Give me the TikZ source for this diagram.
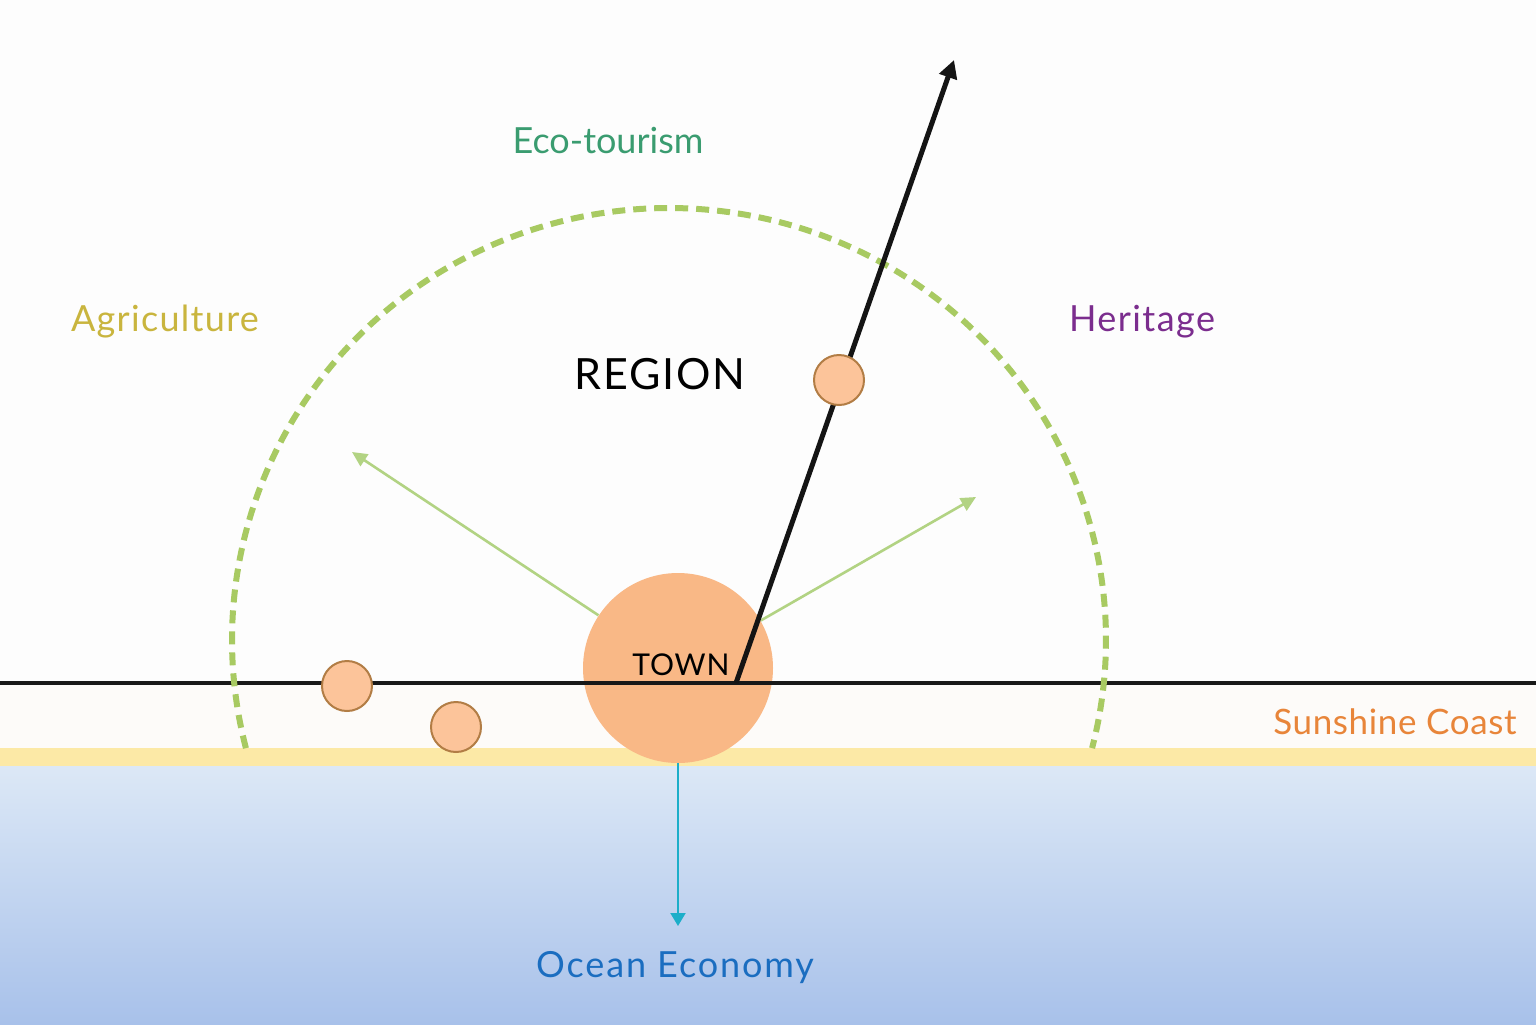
\documentclass[tikz,border=0pt]{standalone}
\usepackage{fontspec}
\setmainfont{Lato}
\usetikzlibrary{arrows.meta}
\definecolor{bg}{HTML}{FDFDFD}
\definecolor{band}{HTML}{FDFBF9}
\definecolor{sand}{HTML}{FCE9A6}
\definecolor{seatop}{HTML}{DCE8F6}
\definecolor{seabot}{HTML}{A8C1EA}
\definecolor{dashgreen}{HTML}{A8CA62}
\definecolor{arrowgreen}{HTML}{B2D383}
\definecolor{townfill}{HTML}{F9B886}
\definecolor{dotfill}{HTML}{FCC49A}
\definecolor{dotedge}{HTML}{B27D45}
\definecolor{cyanA}{HTML}{1CAEC9}
\definecolor{ecoC}{HTML}{3A9C70}
\definecolor{agriC}{HTML}{C9B53E}
\definecolor{heriC}{HTML}{7B2D8E}
\definecolor{sunC}{HTML}{E8853A}
\definecolor{oceanC}{HTML}{1A6DC0}
\tikzset{
  coastline/.style={line width=1.6pt, draw=black!90},
  reach/.style={draw=dashgreen, line width=3pt, dash pattern=on 6.5pt off 4pt},
  greenarrow/.style={draw=arrowgreen, line width=1.3pt, -{Triangle[length=7.5pt,width=7pt]}},
  blackarrow/.style={draw=black!92, line width=2.5pt, -{Triangle[length=9pt,width=9pt]}},
  cyanarrow/.style={draw=cyanA, line width=1pt, -{Triangle[length=6.5pt,width=7.5pt]}},
  townnode/.style={circle, fill=townfill, minimum size=95pt, inner sep=0pt},
  dotnode/.style={circle, fill=dotfill, draw=dotedge, line width=1pt, minimum size=25pt, inner sep=0pt},
  lbl/.style={anchor=base, inner sep=0pt},
}
\newcommand{\lblfont}[3]{\fontsize{#1}{#2}\selectfont\addfontfeatures{LetterSpace=#3}}
\begin{document}
\begin{tikzpicture}[x=0.5pt,y=-0.5pt]
\useasboundingbox (0,0) rectangle (1536,1024);
% background layers
\fill[bg] (0,0) rectangle (1536,683);
\fill[band] (0,683) rectangle (1536,748);
\fill[sand] (0,748) rectangle (1536,766);
\shade[top color=seatop,bottom color=seabot] (0,766) rectangle (1536,1024);
% coordinates
\coordinate (west) at (0,683);
\coordinate (east) at (1536,683);
\coordinate (agtip) at (352,452);
\coordinate (hetip) at (976,497);
\coordinate (pivot) at (736,683);
\coordinate (ptip) at (954,60);
\coordinate (oceantip) at (678,926);
% town
\node[townnode] (town) at (678,668) {};
% green arrows
\draw[greenarrow] (town) -- (agtip);
\draw[greenarrow] (town) -- (hetip);
% coast line
\draw[coastline] (west) -- (east);
% dashed reach arc
\draw[reach] plot[domain=165.5:374.5, samples=240, smooth] ({669+437*cos(\x)}, {640+432*sin(\x)});
% cyan arrow
\draw[cyanarrow] (town.south) -- (oceantip);
% black arrow
\draw[blackarrow] (pivot) -- (ptip);
% dots
\node[dotnode] (d1) at (839,380) {};
\node[dotnode] (d2) at (347,686) {};
\node[dotnode] (d3) at (456,727) {};
% labels
\node[lbl, font=\lblfont{15}{17}{3}] (townlbl) at (681,675) {TOWN};
\node[lbl, font=\lblfont{21.5}{24}{4}] (region) at (660,389) {REGION};
\node[lbl, text=ecoC, font=\lblfont{18}{20}{0}] (eco) at (608,153) {Eco-tourism};
\node[lbl, text=agriC, font=\lblfont{18}{20}{3.6}] (agri) at (165,331) {Agriculture};
\node[lbl, text=heriC, font=\lblfont{18}{20}{4}] (heri) at (1142,331) {Heritage};
\node[lbl, text=sunC, font=\lblfont{17.5}{20}{1.8}] (sun) at (1395,734) {Sunshine Coast};
\node[lbl, text=oceanC, font=\lblfont{18}{20}{5.2}] (ocean) at (675,977) {Ocean Economy};
\end{tikzpicture}
\end{document}
